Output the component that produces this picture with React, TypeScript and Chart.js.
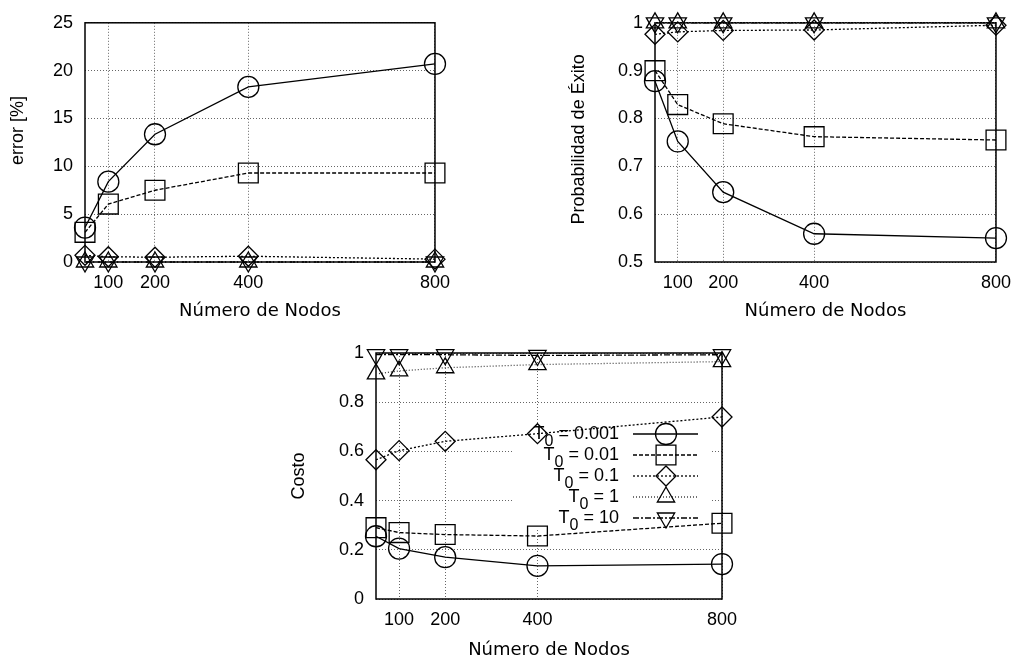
import React, { useEffect, useRef } from 'react';
import { Chart, registerables, PointElement } from 'chart.js';

Chart.register(...registerables);

// ---------------- data ----------------
const NODES = [50, 100, 200, 400, 800];
const X_TICKS = [100, 200, 400, 800];
const X_TICK_LABELS = ['100', '200', '400', '800'];
const X_TITLE = 'Número de Nodos';
const SERIES_LABELS = ['T\u2080 = 0.001', 'T\u2080 = 0.01', 'T\u2080 = 0.1', 'T\u2080 = 1', 'T\u2080 = 10'];

const ERROR_T0_0_001 = [3.6, 8.4, 13.35, 18.3, 20.7];
const ERROR_T0_0_01 = [3.1, 6.05, 7.5, 9.3, 9.3];
const ERROR_T0_0_1 = [0.7, 0.55, 0.5, 0.6, 0.3];
const ERROR_T0_1 = [0, 0, 0, 0, 0];
const ERROR_T0_10 = [0, 0, 0, 0, 0];
const ERROR_TICKS = [0, 5, 10, 15, 20, 25];
const ERROR_TICK_LABELS = ['0', '5', '10', '15', '20', '25'];

const PROB_T0_0_001 = [0.878, 0.752, 0.646, 0.559, 0.55];
const PROB_T0_0_01 = [0.9, 0.829, 0.789, 0.762, 0.755];
const PROB_T0_0_1 = [0.976, 0.981, 0.984, 0.985, 0.995];
const PROB_T0_1 = [1, 1, 1, 1, 1];
const PROB_T0_10 = [1, 1, 1, 1, 1];
const PROB_TICKS = [0.5, 0.6, 0.7, 0.8, 0.9, 1];
const PROB_TICK_LABELS = ['0.5', '0.6', '0.7', '0.8', '0.9', '1'];

const COST_T0_0_001 = [0.255, 0.205, 0.17, 0.135, 0.142];
const COST_T0_0_01 = [0.29, 0.27, 0.262, 0.256, 0.308];
const COST_T0_0_1 = [0.566, 0.603, 0.641, 0.672, 0.74];
const COST_T0_1 = [0.915, 0.927, 0.94, 0.953, 0.965];
const COST_T0_10 = [0.993, 0.993, 0.993, 0.99, 0.993];
const COST_TICKS = [0, 0.2, 0.4, 0.6, 0.8, 1];
const COST_TICK_LABELS = ['0', '0.2', '0.4', '0.6', '0.8', '1'];

// ---------------- styles ----------------
const SERIES_STYLE = [
  { pointStyle: 'circle', radius: 10.5, rotation: 0, dash: [], lineColor: '#000' },
  { pointStyle: 'rect', radius: 14, rotation: 0, dash: [4, 2], lineColor: '#000' },
  { pointStyle: 'rectRot', radius: 10, rotation: 0, dash: [2, 2], lineColor: '#000' },
  { pointStyle: 'triangle', radius: 10, rotation: 0, dash: [1, 2], lineColor: '#444' },
  { pointStyle: 'triangle', radius: 10, rotation: 180, dash: [6, 2, 2, 2], lineColor: '#000' },
];
const GRID_COLOR = 'rgba(0,0,0,0.6)';
const TICK_FONT = { family: 'Liberation Sans', size: 18 };
const X_TITLE_FONT = { family: 'DejaVu Sans', size: 18 };

function buildDatasets(series: number[][]) {
  return series.map((values, i) => {
    const s = SERIES_STYLE[i];
    return {
      label: SERIES_LABELS[i],
      data: NODES.map((x, j) => ({ x, y: values[j] })),
      borderColor: s.lineColor,
      borderWidth: 1.3,
      borderDash: s.dash,
      pointStyle: s.pointStyle,
      pointRadius: s.radius,
      pointRotation: s.rotation,
      pointBorderColor: '#000',
      pointBackgroundColor: 'rgba(0,0,0,0)',
      pointBorderWidth: 1.3,
      fill: false,
      tension: 0,
      clip: false,
    };
  });
}

const framePlugin = {
  id: 'frame',
  beforeDatasetsDraw(chart: any) {
    const { ctx, chartArea: a } = chart;
    ctx.save();
    ctx.strokeStyle = '#000';
    ctx.lineWidth = 1.5;
    ctx.setLineDash([]);
    ctx.strokeRect(a.left, a.top, a.right - a.left, a.bottom - a.top);
    ctx.restore();
  },
};

// y-axis title, drawn rotated beside the y axis with an optional shift along the axis
const yTitlePlugin = {
  id: 'yTitle',
  afterDraw(chart: any, _args: any, opts: any) {
    if (!opts || !opts.text) return;
    const { ctx, chartArea: a } = chart;
    ctx.save();
    ctx.translate(opts.x, (a.top + a.bottom) / 2 + (opts.shift || 0));
    ctx.rotate(-Math.PI / 2);
    ctx.fillStyle = '#000';
    ctx.textAlign = 'center';
    ctx.textBaseline = 'middle';
    ctx.font = `${opts.size}px "Liberation Sans"`;
    ctx.fillText(opts.text, 0, 0);
    ctx.restore();
  },
};

const t0LegendPlugin = {
  id: 't0Legend',
  beforeDatasetsDraw(chart: any, _args: any, opts: any) {
    if (!opts || !opts.display) return;
    const { ctx, chartArea: a } = chart;
    const right = a.right;
    ctx.save();
    ctx.fillStyle = '#fff';
    ctx.fillRect(right - opts.boxLeft, a.top + opts.boxTop, opts.boxLeft - opts.boxRight, opts.boxBottom - opts.boxTop);
    chart.data.datasets.forEach((ds: any, i: number) => {
      const y = a.top + opts.firstRow + i * opts.rowGap;
      const parts = String(ds.label).split('\u2080');
      const main = parts[0];
      const rest = parts[1] || '';
      ctx.fillStyle = '#000';
      ctx.textBaseline = 'middle';
      ctx.textAlign = 'left';
      const big = `${opts.fontSize}px "Liberation Sans"`;
      const small = `${opts.subSize}px "Liberation Sans"`;
      ctx.font = big;
      const wMain = ctx.measureText(main).width;
      const wRest = ctx.measureText(rest).width;
      ctx.font = small;
      const wSub = ctx.measureText('0').width;
      let x = right - opts.textRight - wMain - wSub - wRest;
      ctx.font = big;
      ctx.fillText(main, x, y);
      x += wMain;
      ctx.font = small;
      ctx.fillText('0', x, y + opts.subShift);
      x += wSub;
      ctx.font = big;
      ctx.fillText(rest, x, y);

      ctx.save();
      ctx.strokeStyle = ds.borderColor;
      ctx.lineWidth = ds.borderWidth;
      ctx.setLineDash(ds.borderDash || []);
      ctx.beginPath();
      ctx.moveTo(right - opts.sampleLeft, y);
      ctx.lineTo(right - opts.sampleRight, y);
      ctx.stroke();
      ctx.restore();

      const pt: any = new (PointElement as any)({});
      pt.x = right - opts.markerRight;
      pt.y = y;
      pt.options = {
        pointStyle: ds.pointStyle,
        radius: ds.pointRadius,
        rotation: ds.pointRotation,
        borderWidth: ds.pointBorderWidth,
        borderColor: ds.pointBorderColor,
        backgroundColor: ds.pointBackgroundColor,
        hitRadius: 0,
        hoverRadius: 0,
      };
      ctx.save();
      ctx.setLineDash([]);
      pt.draw(ctx);
      ctx.restore();
    });
    ctx.restore();
  },
};

function makeConfig(spec: any) {
  return {
    type: 'line',
    data: { datasets: buildDatasets(spec.series) },
    options: {
      responsive: false,
      animation: false,
      events: [],
      layout: { padding: spec.padding },
      plugins: {
        legend: { display: false },
        tooltip: { enabled: false },
        t0Legend: spec.legend || { display: false },
        yTitle: spec.yTitle,
      },
      scales: {
        x: {
          type: 'linear',
          min: NODES[0],
          max: NODES[NODES.length - 1],
          afterBuildTicks: (s: any) => {
            s.ticks = X_TICKS.map((v) => ({ value: v }));
          },
          afterFit: (s: any) => {
            s.height = spec.xHeight;
          },
          grid: { color: GRID_COLOR, lineWidth: 1, drawTicks: false },
          border: { display: false, dash: [1, 2] },
          ticks: {
            padding: 10,
            color: '#000',
            font: TICK_FONT,
            maxRotation: 0,
            autoSkip: false,
            callback: (_v: any, i: number) => X_TICK_LABELS[i],
          },
          title: {
            display: true,
            text: X_TITLE,
            color: '#000',
            font: X_TITLE_FONT,
            padding: { top: 0, bottom: spec.xTitlePad },
          },
        },
        y: {
          type: 'linear',
          min: spec.yTicks[0],
          max: spec.yTicks[spec.yTicks.length - 1],
          afterBuildTicks: (s: any) => {
            s.ticks = spec.yTicks.map((v: number) => ({ value: v }));
          },
          afterFit: (s: any) => {
            s.width = spec.yWidth;
          },
          grid: { color: GRID_COLOR, lineWidth: 1, drawTicks: false },
          border: { display: false, dash: [1, 2] },
          ticks: {
            padding: 12,
            color: '#000',
            font: TICK_FONT,
            autoSkip: false,
            callback: (_v: any, i: number) => spec.yLabels[i],
          },
        },
      },
    },
    plugins: [framePlugin, t0LegendPlugin, yTitlePlugin],
  };
}

const PANELS = [
  {
    key: 'error',
    box: { left: 0, top: 0, width: 460, height: 330 },
    spec: {
      series: [ERROR_T0_0_001, ERROR_T0_0_01, ERROR_T0_0_1, ERROR_T0_1, ERROR_T0_10],
      yTicks: ERROR_TICKS,
      yLabels: ERROR_TICK_LABELS,
      yTitle: { text: 'error [%]', x: 18, shift: -12, size: 18 },
      yWidth: 85,
      xHeight: 68,
      xTitlePad: 8,
      padding: { left: 0, top: 14, right: 17, bottom: 0 },
    },
  },
  {
    key: 'prob',
    box: { left: 560, top: 0, width: 461, height: 330 },
    spec: {
      series: [PROB_T0_0_001, PROB_T0_0_01, PROB_T0_0_1, PROB_T0_1, PROB_T0_10],
      yTicks: PROB_TICKS,
      yLabels: PROB_TICK_LABELS,
      yTitle: { text: 'Probabilidad de Éxito', x: 19, shift: -3, size: 18 },
      yWidth: 95,
      xHeight: 68,
      xTitlePad: 8,
      padding: { left: 0, top: 14, right: 19, bottom: 0 },
    },
  },
  {
    key: 'cost',
    box: { left: 280, top: 330, width: 470, height: 334 },
    spec: {
      series: [COST_T0_0_001, COST_T0_0_01, COST_T0_0_1, COST_T0_1, COST_T0_10],
      yTicks: COST_TICKS,
      yLabels: COST_TICK_LABELS,
      yTitle: { text: 'Costo', x: 19, shift: 0, size: 18 },
      yWidth: 96,
      xHeight: 65,
      xTitlePad: 3,
      padding: { left: 0, top: 23, right: 28, bottom: 0 },
      legend: {
        display: true,
        fontSize: 18,
        subSize: 16,
        subShift: 8,
        textRight: 103,
        sampleLeft: 89,
        sampleRight: 24,
        markerRight: 56,
        firstRow: 81,
        rowGap: 21,
        boxLeft: 209,
        boxRight: 12,
        boxTop: 72,
        boxBottom: 175,
      },
    },
  },
];

function Panel({ box, spec }: any) {
  const ref = useRef<HTMLCanvasElement | null>(null);
  useEffect(() => {
    if (!ref.current) return;
    const chart = new Chart(ref.current, makeConfig(spec) as any);
    return () => chart.destroy();
  }, []);
  return (
    <canvas
      ref={ref}
      width={box.width}
      height={box.height}
      style={{ position: 'absolute', left: box.left, top: box.top, width: box.width, height: box.height }}
    />
  );
}

export default function App() {
  return (
    <div style={{ position: 'absolute', left: 0, top: 0, width: 1021, height: 664, background: '#fff', overflow: 'hidden' }}>
      {PANELS.map((p) => (
        <Panel key={p.key} box={p.box} spec={p.spec} />
      ))}
    </div>
  );
}
